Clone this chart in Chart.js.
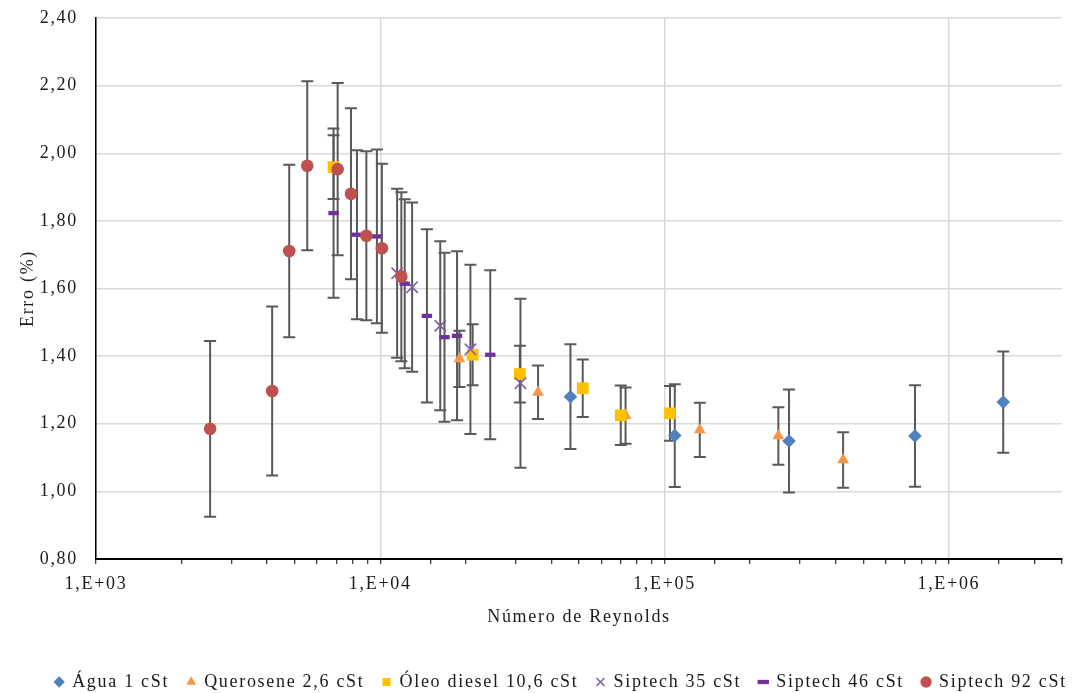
<!DOCTYPE html>
<html>
<head>
<meta charset="utf-8">
<script src="https://cdn.jsdelivr.net/npm/chart.js@4.4.1/dist/chart.umd.min.js"></script>
<style>
  html, body { margin: 0; padding: 0; background: #fff; }
  #wrap { width: 1075px; height: 693px; }
</style>
</head>
<body>
<div id="wrap"><canvas id="grafico"></canvas></div>
<script>
// valores: Reynolds, erro (%) e incerteza (barra de erro)
const aguaRe = [46650, 108600, 274000, 760000, 1553000];
const aguaErro = [1.280, 1.165, 1.149, 1.164, 1.264];
const aguaInc = [0.155, 0.152, 0.152, 0.150, 0.150];

const queroseneRe = [18980, 35890, 72900, 133000, 251300, 424600];
const queroseneErro = [1.392, 1.293, 1.224, 1.182, 1.164, 1.093];
const queroseneInc = [0.083, 0.079, 0.083, 0.080, 0.085, 0.082];

const dieselRe = [6849, 21130, 30970, 51530, 70120, 104500];
const dieselErro = [1.959, 1.404, 1.347, 1.305, 1.225, 1.231];
const dieselInc = [0.094, 0.090, 0.084, 0.085, 0.088, 0.081];

const sip35Re = [11460, 12940, 16250, 20750, 31120];
const sip35Erro = [1.645, 1.604, 1.490, 1.420, 1.320];
const sip35Inc = [0.250, 0.250, 0.250, 0.250, 0.250];

const sip46Re = [6849, 8280, 9729, 12190, 14590, 16820, 18620, 24370];
const sip46Erro = [1.823, 1.759, 1.754, 1.614, 1.519, 1.456, 1.460, 1.404];
const sip46Inc = [0.250, 0.250, 0.257, 0.250, 0.256, 0.250, 0.250, 0.250];

const sip92Re = [2520, 4165, 4783, 5534, 7080, 7887, 8932, 10130, 11860];
const sip92Erro = [1.185, 1.297, 1.711, 1.963, 1.953, 1.880, 1.756, 1.719, 1.635];
const sip92Inc = [0.260, 0.250, 0.255, 0.250, 0.255, 0.253, 0.250, 0.250, 0.250];

const yTicks = [0.8, 1.0, 1.2, 1.4, 1.6, 1.8, 2.0, 2.2, 2.4];

function pontos(re, erro) {
  return re.map((r, i) => ({x: r, y: erro[i]}));
}

const fonte = "'Liberation Serif', 'Times New Roman', serif";
const espaco = '1.7px'; // o texto do original é mais largo

// barras de erro verticais, desenhadas antes dos marcadores
const barrasErro = {
  id: 'barrasErro',
  beforeLayout(chart) {
    chart.ctx.letterSpacing = espaco;
  },
  afterLayout(chart) {
    // legenda um pouco mais abaixo e à direita, como no original
    chart.legend.top += 8;
    chart.legend.bottom += 8;
    chart.legend.left += 30;
    chart.legend.right += 30;
  },
  beforeDraw(chart) {
    chart.ctx.letterSpacing = espaco;
  },
  beforeDatasetsDraw(chart) {
    const ctx = chart.ctx;
    const xs = chart.scales.x, ys = chart.scales.y;
    ctx.save();
    ctx.strokeStyle = '#595959';
    ctx.lineWidth = 2;
    chart.data.datasets.forEach(ds => {
      ds.data.forEach((p, i) => {
        const e = ds.incerteza[i];
        const px = xs.getPixelForValue(p.x);
        const top = ys.getPixelForValue(p.y + e);
        const bot = ys.getPixelForValue(p.y - e);
        ctx.beginPath();
        ctx.moveTo(px, top); ctx.lineTo(px, bot);
        ctx.moveTo(px - 6, top); ctx.lineTo(px + 6, top);
        ctx.moveTo(px - 6, bot); ctx.lineTo(px + 6, bot);
        ctx.stroke();
      });
    });
    ctx.restore();
  }
};

new Chart(document.getElementById('grafico'), {
  type: 'scatter',
  data: {
    datasets: [
      {label: 'Água 1 cSt', data: pontos(aguaRe, aguaErro), incerteza: aguaInc,
       pointStyle: 'rectRot', pointRadius: 6.8, backgroundColor: '#4F81BD', borderColor: '#4F81BD', borderWidth: 0, order: 6},
      {label: 'Querosene 2,6 cSt', data: pontos(queroseneRe, queroseneErro), incerteza: queroseneInc,
       pointStyle: 'triangle', pointRadius: 6.8, backgroundColor: '#F79646', borderColor: '#F79646', borderWidth: 0, order: 5},
      {label: 'Óleo diesel 10,6 cSt', data: pontos(dieselRe, dieselErro), incerteza: dieselInc,
       pointStyle: 'rect', pointRadius: 8.3, backgroundColor: '#FFC000', borderColor: '#FFC000', borderWidth: 0, order: 4},
      {label: 'Siptech 35 cSt', data: pontos(sip35Re, sip35Erro), incerteza: sip35Inc,
       pointStyle: 'crossRot', pointRadius: 8, backgroundColor: '#8064A2', borderColor: '#8064A2', borderWidth: 1.7, order: 3},
      {label: 'Siptech 46 cSt', data: pontos(sip46Re, sip46Erro), incerteza: sip46Inc,
       pointStyle: 'line', pointRadius: 5.2, backgroundColor: '#7030A0', borderColor: '#7030A0', borderWidth: 4.3, order: 2},
      {label: 'Siptech 92 cSt', data: pontos(sip92Re, sip92Erro), incerteza: sip92Inc,
       pointStyle: 'circle', pointRadius: 6.3, backgroundColor: '#C0504D', borderColor: '#C0504D', borderWidth: 0, order: 1}
    ]
  },
  options: {
    responsive: true,
    maintainAspectRatio: false,
    animation: false,
    events: [],
    layout: {padding: {left: 0, right: 13, top: 18, bottom: 0}},
    plugins: {
      tooltip: {enabled: false},
      legend: {
        position: 'bottom',
        labels: {
          usePointStyle: true,
          boxWidth: 8,
          boxHeight: 8,
          padding: 18,
          color: '#1a1a1a',
          font: {family: fonte, size: 18},
          sort: (a, b) => a.datasetIndex - b.datasetIndex
        }
      }
    },
    scales: {
      x: {
        type: 'logarithmic',
        min: 1000,
        max: 2500000,
        afterFit(scale) { scale.height = 88; },
        border: {color: '#000', width: 2},
        grid: {
          color: c => (c.tick && Number.isInteger(Math.round(Math.log10(c.tick.value) * 1e6) / 1e6)) ? '#d9d9d9' : 'rgba(0,0,0,0)',
          lineWidth: 1.5,
          tickColor: '#000',
          tickLength: 5,
          tickWidth: 1
        },
        ticks: {
          autoSkip: false,
          maxRotation: 0,
          padding: 9,
          color: '#1a1a1a',
          font: {family: fonte, size: 18},
          callback: v => {
            const lg = Math.log10(v);
            if (Math.abs(lg - Math.round(lg)) < 1e-6) return '1,E+0' + Math.round(lg);
            return '';
          }
        },
        title: {
          display: true,
          text: 'Número de Reynolds',
          color: '#1a1a1a',
          font: {family: fonte, size: 18},
          padding: {top: 0, bottom: 19}
        }
      },
      y: {
        min: 0.8,
        max: 2.4,
        afterFit(scale) { scale.width = 96; },
        afterBuildTicks(scale) { scale.ticks = yTicks.map(v => ({value: v})); },
        border: {color: '#000', width: 1.5},
        grid: {color: '#d9d9d9', lineWidth: 1.5, drawTicks: true, tickLength: 18, tickColor: 'rgba(0,0,0,0)'},
        ticks: {
          padding: 0,
          color: '#1a1a1a',
          font: {family: fonte, size: 18},
          callback: v => v.toFixed(2).replace('.', ',')
        },
        title: {
          display: true,
          text: 'Erro (%)',
          color: '#1a1a1a',
          font: {family: fonte, size: 18},
          padding: {top: 17, bottom: 0}
        }
      }
    }
  },
  plugins: [barrasErro]
});
</script>
</body>
</html>
